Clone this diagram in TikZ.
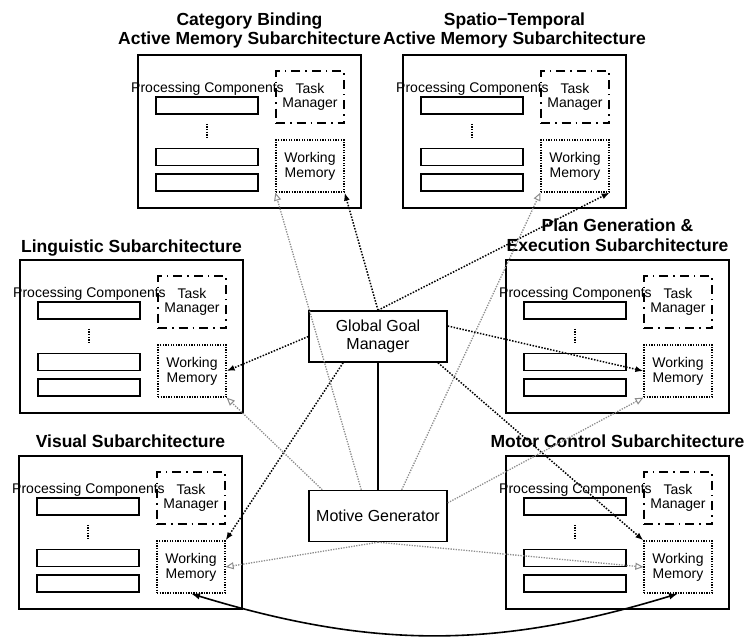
\documentclass[tikz,border=0pt]{standalone}
\usepackage{fontspec}
\setmainfont{Liberation Sans}
\usetikzlibrary{arrows.meta,calc}

\tikzset{
  outerframe/.style={draw, line width=1.6pt, minimum width=223pt, minimum height=153pt, inner sep=0pt},
  pcbox/.style={draw, line width=1.5pt, minimum width=102pt, minimum height=17pt, inner sep=0pt},
  tmbox/.style={draw, line width=1.5pt, dash pattern=on 9pt off 5pt on 1.5pt off 5pt,
    minimum width=68pt, minimum height=52pt, inner sep=0pt, align=center,
    font={\fontsize{14}{14.5}\selectfont}},
  wmbox/.style={draw, line width=1.3pt, dash pattern=on 1.3pt off 1.3pt,
    minimum width=68pt, minimum height=52pt, inner sep=0pt, align=center,
    font={\fontsize{14}{15}\selectfont}},
  pclabel/.style={anchor=base, inner sep=0pt, font={\fontsize{14}{14.5}\selectfont}},
  vdots/.style={line width=1.4pt, dash pattern=on 1.4pt off 1.2pt},
  titletext/.style={anchor=base, inner sep=0pt, font={\fontsize{17.5}{20}\selectfont\bfseries}},
  mainbox/.style={draw, line width=1.5pt, minimum width=138pt, minimum height=51pt, inner sep=0pt,
    align=center, font={\fontsize{16}{18}\selectfont}},
  goalarrow/.style={line width=1.5pt, dash pattern=on 1.5pt off 1.5pt,
    -{Latex[length=8pt,width=6pt]}},
  motivearrow/.style={black!45, line width=1.3pt, dash pattern=on 1.3pt off 1.3pt,
    -{Triangle[open,length=8pt,width=7pt,line width=1pt]}},
  wmlink/.style={line width=1.6pt, {Latex[length=9pt,width=6.5pt]}-{Latex[length=9pt,width=6.5pt]}}
}

% one subarchitecture: name, left x, top y (y measured downwards)
\newcommand\subarch[3]{%
  \begin{scope}[shift={(#2,-#3)}]
    \node[outerframe] (#1) at (111.5,-76.5) {};
    \node[pclabel] (#1-pc) at (69.5,-37) {Processing Components};
    \node[pcbox] (#1-p1) at (69,-50.5) {};
    \node[pcbox] (#1-p2) at (69,-102) {};
    \node[pcbox] (#1-p3) at (69,-127.5) {};
    \draw[vdots] ($(#1-p1.south)+(0,-9)$) -- ($(#1-p2.north)+(0,9)$);
    \node[tmbox] (#1-tm) at (172,-42) {Task\\Manager};
    \node[wmbox] (#1-wm) at (172,-111) {Working\\Memory};
  \end{scope}}

\begin{document}
\begin{tikzpicture}[x=1pt,y=1pt]
  \useasboundingbox (0,0) rectangle (750,-640);

  % subarchitectures
  \subarch{cb}{138}{55}
  \subarch{st}{403}{55}
  \subarch{lg}{20}{260}
  \subarch{pg}{506}{260}
  \subarch{vs}{19}{456}
  \subarch{mc}{506}{456}

  % titles
  \node[titletext] (cb-t1) at (249.5,-25) {Category Binding};
  \node[titletext] (cb-t2) at (249.5,-44) {Active Memory Subarchitecture};
  \node[titletext] (st-t1) at (514.5,-25) {Spatio−Temporal};
  \node[titletext] (st-t2) at (514.5,-44) {Active Memory Subarchitecture};
  \node[titletext] (lg-t1) at (131.5,-252.5) {Linguistic Subarchitecture};
  \node[titletext] (pg-t1) at (617.5,-231) {Plan Generation \&};
  \node[titletext] (pg-t2) at (617.5,-251) {Execution Subarchitecture};
  \node[titletext] (vs-t1) at (130.5,-447) {Visual Subarchitecture};
  \node[titletext] (mc-t1) at (617.5,-447) {Motor Control Subarchitecture};

  % central components
  \node[mainbox] (ggm) at (378,-336.5) {Global Goal\\Manager};
  \node[mainbox] (mg) at (378,-516) {Motive Generator};
  \draw[line width=1.5pt] (ggm.south) -- (mg.north);

  % goals pushed to the working memories
  \draw[goalarrow] (ggm.north) -- (cb-wm.south east);
  \draw[goalarrow] (ggm.north) -- (st-wm.south east);
  \draw[goalarrow] (ggm.west) -- (lg-wm.east);
  \draw[goalarrow] ($(ggm.north east)!.3!(ggm.south east)$) -- (pg-wm.west);
  \draw[goalarrow] ($(ggm.south west)!.25!(ggm.south east)$) -- (vs-wm.north east);
  \draw[goalarrow] ($(ggm.south west)!.93!(ggm.south east)$) -- (mc-wm.north west);

  % motive generator links
  \draw[motivearrow] ($(mg.north west)!.38!(mg.north east)$) -- (cb-wm.south west);
  \draw[motivearrow] ($(mg.north west)!.1!(mg.north east)$) -- (lg-wm.south east);
  \draw[motivearrow] ($(mg.north west)!.67!(mg.north east)$) -- (st-wm.south west);
  \draw[motivearrow] ($(mg.north east)!.25!(mg.south east)$) -- (pg-wm.south west);
  \draw[motivearrow] (mg.south) -- (vs-wm.east);
  \draw[motivearrow] (mg.south) -- (mc-wm.west);

  % visual <-> motor working memory link
  \draw[wmlink] (vs-wm.south) to[bend right=17] (mc-wm.south);
\end{tikzpicture}
\end{document}
